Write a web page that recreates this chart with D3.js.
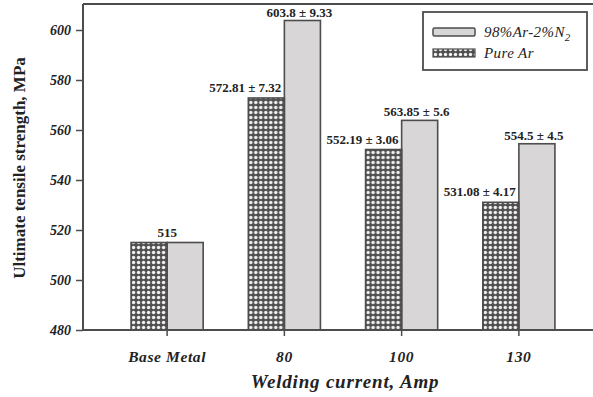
<!DOCTYPE html>
<html>
<head>
<meta charset="utf-8">
<script src="https://cdn.jsdelivr.net/npm/d3@7"></script>
<style>
  html, body { margin: 0; padding: 0; background: #fff; }
  svg { display: block; }
  text { font-family: "Liberation Serif", "Times New Roman", serif; fill: #222; }
</style>
</head>
<body>
<script>
// Welding current groups and tensile strength (MPa) per shielding gas
const categories = ["Base Metal", "80", "100", "130"];
const seriesNames = ["Pure Ar", "98%Ar-2%N2"];
const pureAr = [515, 572.81, 552.19, 531.08];
const arN2 = [515, 603.8, 563.85, 554.5];
const pureArErr = [null, 7.32, 3.06, 4.17];
const arN2Err = [null, 9.33, 5.6, 4.5];
const yTicks = [480, 500, 520, 540, 560, 580, 600];

const W = 593, H = 397;
const plotLeft = 83, plotTop = 4, plotBottom = 330;

const svg = d3.select("body").append("svg").attr("width", W).attr("height", H);

// dotted fill for the Pure Ar bars
const defs = svg.append("defs");
const pat = defs.append("pattern").attr("id", "dots")
  .attr("patternUnits", "userSpaceOnUse").attr("width", 5).attr("height", 5);
pat.append("rect").attr("width", 5).attr("height", 5).attr("fill", "#505050");
pat.append("circle").attr("cx", 2.5).attr("cy", 2.5).attr("r", 1.7).attr("fill", "#f2f2f2");

const x = d3.scaleBand().domain(categories).range([plotLeft, 603])
  .paddingInner(0.385).paddingOuter(0.41);
const xs = d3.scaleBand().domain(seriesNames).range([0, x.bandwidth()]);
const y = d3.scaleLinear().domain([480, 610]).range([plotBottom, plotTop + 1]);

const lineCol = "#4d4d4d";
const labelSize = "13px";

// bars
const rows = categories.map((c, i) => ({ c, i }));
const groups = svg.append("g").selectAll("g").data(rows).join("g")
  .attr("transform", d => `translate(${x(d.c)},0)`);

groups.append("rect")
  .attr("x", xs("98%Ar-2%N2")).attr("width", xs.bandwidth())
  .attr("y", d => y(arN2[d.i])).attr("height", d => y(480) - y(arN2[d.i]))
  .attr("fill", "#d8d6d7").attr("stroke", lineCol).attr("stroke-width", 1.6);

groups.append("rect")
  .attr("x", xs("Pure Ar")).attr("width", xs.bandwidth())
  .attr("y", d => y(pureAr[d.i])).attr("height", d => y(480) - y(pureAr[d.i]))
  .attr("fill", "url(#dots)").attr("stroke", lineCol).attr("stroke-width", 1.6);

// value labels
rows.forEach(d => {
  const gx = x(d.c);
  if (pureArErr[d.i] === null) {
    svg.append("text").attr("x", gx + x.bandwidth() / 2).attr("y", y(pureAr[d.i]) - 6)
      .attr("text-anchor", "middle").attr("font-size", labelSize).attr("font-weight", "bold")
      .text(pureAr[d.i]);
    return;
  }
  // Pure Ar label, right-aligned to its bar, on a white box
  const t = svg.append("text")
    .attr("x", gx + xs("Pure Ar") + xs.bandwidth() - 3)
    .attr("y", y(pureAr[d.i]) - 6)
    .attr("text-anchor", "end").attr("font-size", labelSize).attr("font-weight", "bold")
    .text(`${pureAr[d.i]} ± ${pureArErr[d.i]}`);
  const bb = t.node().getBBox();
  svg.insert("rect", () => t.node())
    .attr("x", bb.x - 1).attr("y", bb.y).attr("width", bb.width + 2).attr("height", bb.height)
    .attr("fill", "#fff");
  // Ar-N2 label centred above its bar
  svg.append("text")
    .attr("x", gx + xs("98%Ar-2%N2") + xs.bandwidth() / 2 - 3)
    .attr("y", y(arN2[d.i]) - 4)
    .attr("text-anchor", "middle").attr("font-size", labelSize).attr("font-weight", "bold")
    .text(`${arN2[d.i]} ± ${arN2Err[d.i]}`);
});

// frame and axes
svg.append("line").attr("x1", plotLeft).attr("x2", W).attr("y1", plotTop).attr("y2", plotTop)
  .attr("stroke", lineCol).attr("stroke-width", 2);

const yAxis = svg.append("g").attr("transform", `translate(${plotLeft},0)`)
  .call(d3.axisLeft(y).tickValues(yTicks).tickSize(7).tickPadding(5));
yAxis.select(".domain").attr("d", `M0,${plotTop}V${plotBottom}`).attr("stroke", lineCol).attr("stroke-width", 2);
yAxis.selectAll(".tick line").attr("stroke", lineCol).attr("stroke-width", 1.5);
yAxis.selectAll(".tick text").attr("font-family", "Liberation Serif, serif")
  .attr("font-size", "14px").attr("font-weight", "bold").attr("font-style", "italic").attr("fill", "#222");

const xAxis = svg.append("g").attr("transform", `translate(0,${plotBottom})`)
  .call(d3.axisBottom(x).tickSize(6).tickPadding(15));
xAxis.select(".domain").attr("d", `M${plotLeft},0H${W}`).attr("stroke", lineCol).attr("stroke-width", 2);
xAxis.selectAll(".tick line").attr("stroke", lineCol).attr("stroke-width", 1.5);
xAxis.selectAll(".tick text").attr("font-family", "Liberation Serif, serif")
  .attr("font-size", "15.5px").attr("font-weight", "bold").attr("font-style", "italic")
  .attr("letter-spacing", "0.6px").attr("fill", "#222");

// axis titles
svg.append("text").attr("x", 345).attr("y", 388).attr("text-anchor", "middle")
  .attr("font-size", "19px").attr("font-weight", "bold").attr("font-style", "italic")
  .attr("letter-spacing", "0.8px")
  .text("Welding current, Amp");
svg.append("text").attr("transform", "translate(25,168) rotate(-90)").attr("text-anchor", "middle")
  .attr("font-size", "17px").attr("font-weight", "bold")
  .text("Ultimate tensile strength, MPa");

// legend
const lg = svg.append("g").attr("transform", "translate(423,12)");
lg.append("rect").attr("width", 164).attr("height", 58).attr("fill", "#fff")
  .attr("stroke", lineCol).attr("stroke-width", 1.8);
lg.append("rect").attr("x", 10).attr("y", 16).attr("width", 42).attr("height", 8).attr("rx", 1.5)
  .attr("fill", "#d8d6d7").attr("stroke", lineCol).attr("stroke-width", 1.5);
lg.append("rect").attr("x", 10).attr("y", 37).attr("width", 42).attr("height", 8)
  .attr("fill", "url(#dots)").attr("stroke", lineCol).attr("stroke-width", 1.2);
const t1 = lg.append("text").attr("x", 61).attr("y", 25).attr("font-size", "15px")
  .attr("font-style", "italic").attr("letter-spacing", "0.4px");
t1.append("tspan").text("98%Ar-2%N");
t1.append("tspan").attr("font-size", "11px").attr("dy", 4).text("2");
lg.append("text").attr("x", 61).attr("y", 46).attr("font-size", "15px")
  .attr("font-style", "italic").attr("letter-spacing", "0.4px")
  .text("Pure Ar");
</script>
</body>
</html>
